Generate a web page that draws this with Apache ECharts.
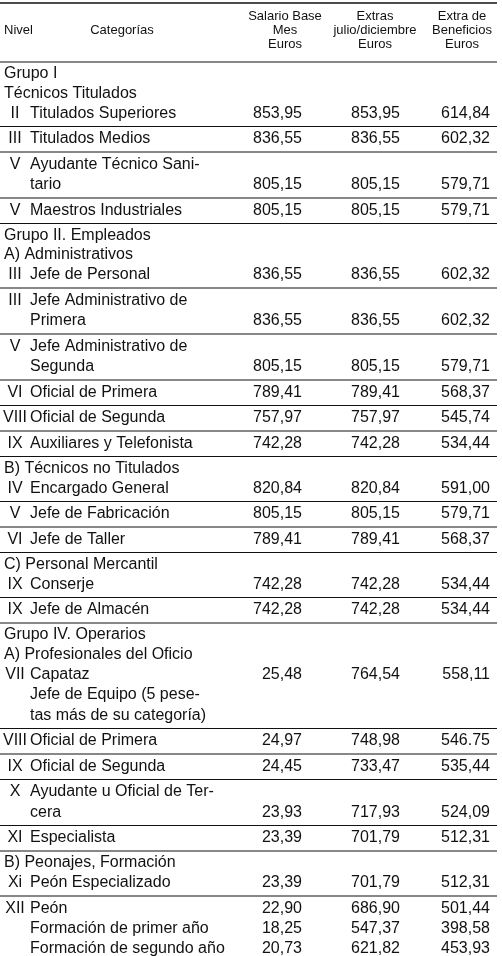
<!DOCTYPE html>
<html><head><meta charset="utf-8">
<script src="https://cdn.jsdelivr.net/npm/echarts@6/dist/echarts.min.js"></script>
<style>html,body{margin:0;padding:0;background:#fff}#c{width:502px;height:956px}</style>
</head><body><div id="c"></div>
<script>
var headers = ['Nivel', 'Categorías', 'Salario Base\nMes\nEuros', 'Extras\njulio/diciembre\nEuros', 'Extra de\nBeneficios\nEuros'];
// kind: 'g' = group heading, 'r' = row with rule below, 'n' = row without rule below
var kinds =    ['g','g','r','r','r','r','g','g','r','r','r','r','r','r','g','r','r','r','g','r','r','g','g','r','r','r','r','r','g','r','n','n','r'];
var niveles =  ['','','II','III','V','V','','','III','III','V','VI','VIII','IX','','IV','V','VI','','IX','IX','','','VII','VIII','IX','X','XI','','Xi','XII','',''];
var categorias = ['Grupo I','Técnicos Titulados','Titulados Superiores','Titulados Medios','Ayudante Técnico Sani-\ntario','Maestros Industriales',
 'Grupo II. Empleados','A) Administrativos','Jefe de Personal','Jefe Administrativo de\nPrimera','Jefe Administrativo de\nSegunda','Oficial de Primera','Oficial de Segunda','Auxiliares y Telefonista',
 'B) Técnicos no Titulados','Encargado General','Jefe de Fabricación','Jefe de Taller','C) Personal Mercantil','Conserje','Jefe de Almacén',
 'Grupo IV. Operarios','A) Profesionales del Oficio','Capataz\nJefe de Equipo (5 pese-\ntas más de su categoría)','Oficial de Primera','Oficial de Segunda','Ayudante u Oficial de Ter-\ncera','Especialista',
 'B) Peonajes, Formación','Peón Especializado','Peón','Formación de primer año','Formación de segundo año'];
var salario = ['','','853,95','836,55','805,15','805,15','','','836,55','836,55','805,15','789,41','757,97','742,28','','820,84','805,15','789,41','','742,28','742,28','','','25,48','24,97','24,45','23,93','23,39','','23,39','22,90','18,25','20,73'];
var extras  = ['','','853,95','836,55','805,15','805,15','','','836,55','836,55','805,15','789,41','757,97','742,28','','820,84','805,15','789,41','','742,28','742,28','','','764,54','748,98','733,47','717,93','701,79','','701,79','686,90','547,37','621,82'];
var beneficios = ['','','614,84','602,32','579,71','579,71','','','602,32','602,32','579,71','568,37','545,74','534,44','','591,00','579,71','568,37','','534,44','534,44','','','558,11','546.75','535,44','524,09','512,31','','512,31','501,44','398,58','453,93'];
// line of a multi-line category on which the values are printed (0-based)
var valueLine = [0,0,0,0,1,0,0,0,0,1,1,0,0,0,0,0,0,0,0,0,0,0,0,0,0,0,1,0,0,0,0,0,0];

var font = '"Liberation Sans", Arial, sans-serif';
var g = [];
function txt(x,y,s,size,align){g.push({type:'text',x:x,y:y,style:{text:s,font:size+'px '+font,fill:'#111',align:align,verticalAlign:'middle',lineHeight:14}});}
function rule(y,w){g.push({type:'line',shape:{x1:0,y1:y,x2:497,y2:y},style:{stroke:'#111',lineWidth:w||1}});}
var colX = [4,122,285,375,462];
var valX = [302,400,490];
rule(3,1.5);
txt(colX[0],30,headers[0],13,'left');
txt(colX[1],30,headers[1],13,'center');
for (var h=2;h<5;h++) txt(colX[h],30,headers[h],13,'center');
rule(62,1.2);
var y = 62, LH = 20.5, FS = 16;
for (var i=0;i<kinds.length;i++){
  var lines = categorias[i].split('\n');
  if (kinds[i]==='g'){ txt(4,y+12,categorias[i],FS,'left'); y+=19.5; continue; }
  var c0 = y+12.5;
  lines.forEach(function(l,k){ txt(30,c0+k*LH,l,FS,'left'); });
  txt(15,c0,niveles[i],FS,'center');
  var vy = c0+valueLine[i]*LH;
  txt(valX[0],vy,salario[i],FS,'right');
  txt(valX[1],vy,extras[i],FS,'right');
  txt(valX[2],vy,beneficios[i],FS,'right');
  if (kinds[i]==='n'){ y+=20; continue; }
  y += 25.5 + LH*(lines.length-1);
  rule(y,1);
}
var chart = echarts.init(document.getElementById('c'));
chart.setOption({animation:false,graphic:{elements:g}});
</script></body></html>
